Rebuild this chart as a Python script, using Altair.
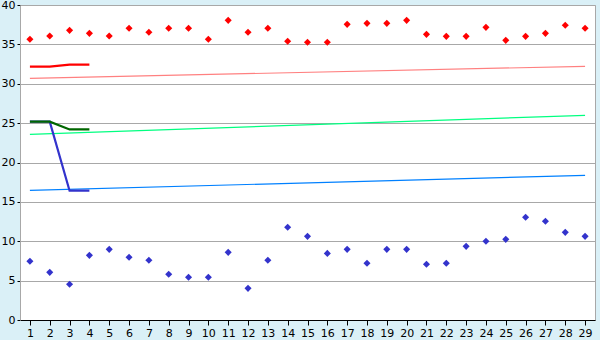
import altair as alt
import pandas as pd

days = list(range(1, 30))
red_pts = [35.64, 36.06, 36.78, 36.40, 36.06, 37.04, 36.53, 37.04, 37.04, 35.64,
           38.05, 36.53, 37.04, 35.39, 35.26, 35.26, 37.54, 37.67, 37.67, 38.05,
           36.27, 36.02, 36.02, 37.16, 35.51, 36.02, 36.40, 37.42, 37.04]
blue_pts = [7.45, 6.05, 4.53, 8.21, 8.97, 7.96, 7.58, 5.80, 5.42, 5.42,
            8.59, 4.02, 7.58, 11.77, 10.62, 8.46, 8.97, 7.20, 8.97, 8.97,
            7.07, 7.20, 9.35, 9.99, 10.24, 13.04, 12.53, 11.13, 10.62]

trend_x = [1, 29]
pink_trend = [30.69, 32.21]
green_trend = [23.57, 25.99]
lblue_trend = [16.46, 18.37]

short_x = [1, 2, 3, 4]
red_short = [32.17, 32.17, 32.42, 32.42]
blue_short = [25.18, 25.18, 16.42, 16.42]
green_short = [25.18, 25.18, 24.20, 24.20]

FONT = "DejaVu Sans"

x_scale = alt.Scale(domain=[0.5, 29.5], nice=False, zero=False)
y_scale = alt.Scale(domain=[0, 40], nice=False)

x_axis = alt.Axis(values=days, grid=False, title=None, labelFont=FONT, labelFontSize=11,
                  labelColor="black", domainColor="black", tickColor="black",
                  tickSize=5, labelPadding=2, labelFlush=False, labelOverlap=False)
y_axis = alt.Axis(values=list(range(0, 41, 5)), grid=True, gridColor="#A8A8A8", title=None,
                  labelFont=FONT, labelFontSize=11, labelColor="black",
                  domainColor="#A8A8A8", tickColor="black", tickSize=3, labelPadding=2)

def df(xs, ys):
    return pd.DataFrame({"x": xs, "y": ys})

def line(data, color, width):
    return alt.Chart(data).mark_line(color=color, strokeWidth=width, clip=True).encode(
        x=alt.X("x:Q", scale=x_scale, axis=x_axis),
        y=alt.Y("y:Q", scale=y_scale, axis=y_axis),
    )

def pts(data, color):
    return alt.Chart(data).mark_point(shape="diamond", filled=True, color=color, size=50, opacity=1).encode(
        x=alt.X("x:Q", scale=x_scale, axis=x_axis),
        y=alt.Y("y:Q", scale=y_scale, axis=y_axis),
    )

chart = alt.layer(
    line(df(trend_x, pink_trend), "#FF8080", 1.2),
    line(df(trend_x, green_trend), "#00FF80", 1.2),
    line(df(trend_x, lblue_trend), "#0080FF", 1.2),
    line(df(short_x, red_short), "#FF0000", 2.2),
    line(df(short_x, blue_short), "#3333CC", 2.2),
    line(df(short_x, green_short), "#006600", 2.2),
    pts(df(days, red_pts), "#FF0000"),
    pts(df(days, blue_pts), "#3333CC"),
).properties(
    width=575, height=315,
    autosize=alt.AutoSizeParams(type="none"),
    padding={"left": 20, "top": 5, "right": 5, "bottom": 20},
    background="#DAF0F7",
).configure_view(fill="white", stroke="#A8A8A8", strokeWidth=1)

chart.save("out.html", embed_options={"renderer": "svg", "actions": False})
